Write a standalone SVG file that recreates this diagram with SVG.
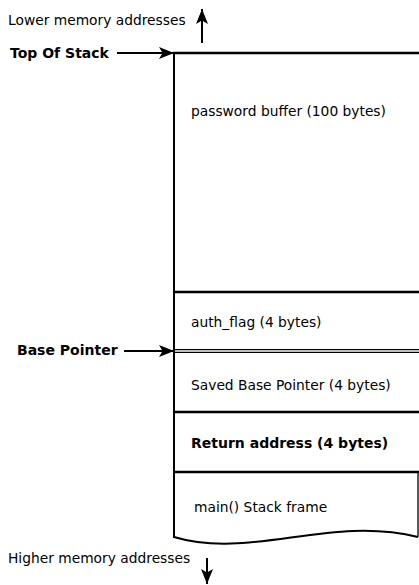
<svg xmlns="http://www.w3.org/2000/svg" width="419" height="585" viewBox="0 0 419 585">
  <style>
    .t { font-family: "DejaVu Sans", Verdana, sans-serif; font-size: 13.8px; fill: #000; }
    .b { font-weight: bold; font-size: 14px; }
    .ln { stroke: #000; stroke-width: 2; fill: none; }
    .sep { stroke: #000; stroke-width: 2.6; fill: none; }
    .thin { stroke: #000; stroke-width: 1.3; fill: none; }
  </style>
  <defs>
    <marker id="arrow" viewBox="0 0 15 12" refX="15" refY="6" markerWidth="15" markerHeight="12" markerUnits="userSpaceOnUse" orient="auto">
      <path d="M0,0 L15,6 L0,12 L3.5,6 Z" fill="#000"/>
    </marker>
  </defs>
  <rect width="419" height="585" fill="#fff"/>

  <!-- stack frame slots -->
  <g id="password-buffer">
    <text class="t" x="191" y="116">password buffer (100 bytes)</text>
  </g>
  <g id="auth-flag">
    <text class="t" x="191" y="327">auth_flag (4 bytes)</text>
  </g>
  <g id="saved-base-pointer">
    <text class="t" x="191" y="390">Saved Base Pointer (4 bytes)</text>
  </g>
  <g id="return-address">
    <text class="t b" x="191" y="448">Return address (4 bytes)</text>
  </g>
  <g id="main-frame">
    <path class="thin" d="M418,472 V537"/>
    <path class="ln" d="M174,537 C250,560 330,515 418,537"/>
    <text class="t" x="194" y="512">main() Stack frame</text>
  </g>

  <!-- stack outline and slot separators -->
  <g id="stack-outline">
    <path class="ln" d="M174,53 V538"/>
    <path class="sep" d="M173,53 H419"/>
    <path class="sep" d="M173,292 H419"/>
    <path class="thin" d="M173,349.6 H419"/>
    <path class="thin" d="M173,352.3 H419"/>
    <path class="sep" d="M173,412 H419"/>
    <path class="sep" d="M173,472 H419"/>
  </g>

  <!-- labels -->
  <g id="lower-addresses">
    <text class="t" x="8" y="25">Lower memory addresses</text>
  </g>
  <g id="top-of-stack">
    <text class="t b" x="10" y="58">Top Of Stack</text>
  </g>
  <g id="base-pointer">
    <text class="t b" x="17" y="355">Base Pointer</text>
  </g>
  <g id="higher-addresses">
    <text class="t" x="8" y="563">Higher memory addresses</text>
  </g>

  <!-- connectors -->
  <g id="connectors">
    <path class="ln" d="M202,43 V9" marker-end="url(#arrow)"/>
    <path class="ln" d="M117,53 H174" marker-end="url(#arrow)"/>
    <path class="ln" d="M124,351 H174" marker-end="url(#arrow)"/>
    <path class="ln" d="M207,558 V584" marker-end="url(#arrow)"/>
  </g>
</svg>
